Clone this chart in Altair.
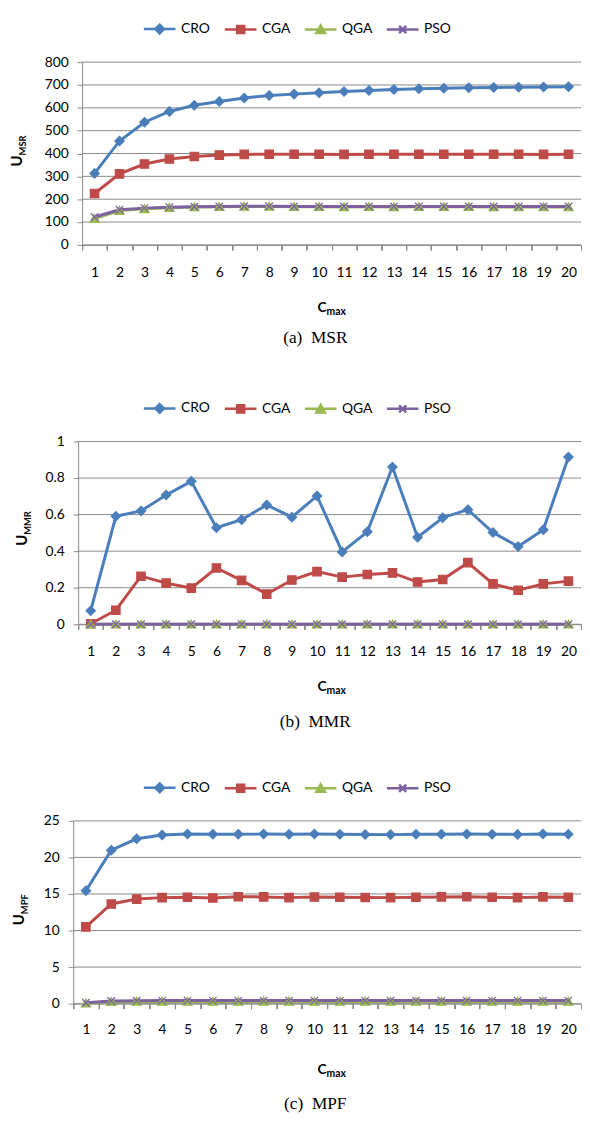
import altair as alt
import pandas as pd

# ---------------- data ----------------
cmax = [1, 2, 3, 4, 5, 6, 7, 8, 9, 10, 11, 12, 13, 14, 15, 16, 17, 18, 19, 20]
algorithms = ["CRO", "CGA", "QGA", "PSO"]
colors = ["#4a7ebb", "#be4b48", "#98b954", "#7d60a0"]

msr_cro = [313, 455, 537, 584, 611, 628, 643, 654, 660, 666, 671, 676, 680, 683, 686, 688, 689, 690, 691, 692]
msr_cga = [225, 311, 354, 376, 387, 393, 396, 397, 397, 397, 396, 397, 397, 397, 397, 397, 397, 397, 396, 397]
msr_qga = [115, 150, 158, 163, 166, 167, 168, 168, 167, 167, 166, 167, 166, 167, 167, 167, 166, 166, 166, 166]
msr_pso = [122, 154, 161, 165, 167, 168, 169, 169, 168, 168, 168, 168, 168, 168, 168, 168, 168, 168, 168, 168]

mmr_cro = [0.074, 0.591, 0.62, 0.707, 0.782, 0.528, 0.572, 0.653, 0.586, 0.702, 0.396, 0.506, 0.86, 0.476, 0.583, 0.627, 0.502, 0.425, 0.517, 0.915]
mmr_cga = [0.003, 0.077, 0.263, 0.225, 0.198, 0.308, 0.240, 0.165, 0.242, 0.288, 0.258, 0.272, 0.281, 0.231, 0.245, 0.337, 0.221, 0.186, 0.221, 0.236]
mmr_qga = [0, 0, 0, 0, 0, 0, 0, 0, 0, 0, 0, 0, 0, 0, 0, 0, 0, 0, 0, 0]
mmr_pso = [0, 0, 0, 0, 0, 0, 0, 0, 0, 0, 0, 0, 0, 0, 0, 0, 0, 0, 0, 0]

mpf_cro = [15.45, 20.99, 22.55, 23.07, 23.2, 23.18, 23.18, 23.19, 23.17, 23.2, 23.17, 23.13, 23.12, 23.17, 23.18, 23.2, 23.17, 23.15, 23.2, 23.16]
mpf_cga = [10.5, 13.63, 14.3, 14.5, 14.55, 14.45, 14.62, 14.6, 14.5, 14.58, 14.55, 14.52, 14.5, 14.55, 14.6, 14.62, 14.55, 14.5, 14.6, 14.55]
mpf_qga = [0.05, 0.27, 0.3, 0.3, 0.3, 0.3, 0.3, 0.3, 0.3, 0.3, 0.3, 0.3, 0.3, 0.3, 0.3, 0.3, 0.3, 0.3, 0.3, 0.3]
mpf_pso = [0.12, 0.36, 0.4, 0.42, 0.42, 0.42, 0.42, 0.42, 0.42, 0.42, 0.42, 0.42, 0.42, 0.42, 0.42, 0.42, 0.42, 0.42, 0.42, 0.42]

msr_ticks = [0, 100, 200, 300, 400, 500, 600, 700, 800]
mmr_ticks = [0, 0.2, 0.4, 0.6, 0.8, 1]
mpf_ticks = [0, 5, 10, 15, 20, 25]

# ---------------- style ----------------
FONT = "Lato"
GRID = "#898989"
W, H = 514, 185

marker_paths = [
    "M0,-1L1,0L0,1L-1,0Z",
    "M-0.9,-0.9H0.9V0.9H-0.9Z",
    "M0,-0.9L1,0.8H-1Z",
    "M-0.8,-0.8L0.8,0.8M-0.8,0.8L0.8,-0.8",
]
legend_paths = [
    "M-2,0H2M0,-0.55L0.55,0L0,0.55L-0.55,0Z",
    "M-2,0H2M-0.45,-0.45H0.45V0.45H-0.45Z",
    "M-2,0H2M0,-0.5L0.55,0.45H-0.55Z",
    "M-2,0H2M-0.45,-0.45L0.45,0.45M-0.45,0.45L0.45,-0.45",
]


def label(text, x, y, size, align="center", baseline="alphabetic", angle=0, font=FONT, weight="bold"):
    return alt.Chart(pd.DataFrame({"t": [text]})).mark_text(
        font=font, fontSize=size, fontWeight=weight, align=align,
        baseline=baseline, angle=angle, color="#000000",
    ).encode(x=alt.value(x), y=alt.value(y), text="t:N")


def anchor(x, y):
    # invisible spacer fixing the top-left extent of the panel
    return alt.Chart(pd.DataFrame({"t": [0]})).mark_rule(strokeOpacity=0, strokeWidth=1).encode(
        x=alt.value(x), y=alt.value(y), y2=alt.value(y + 1))


def panel(series, y_max, y_ticks, y_format, sub, caption, x0, ut_x, lab_pad, c_dy, cap_dy):
    rows = []
    for alg, vals in zip(algorithms, series):
        for c, v in zip(cmax, vals):
            rows.append({"cmax": c, "alg": alg, "value": v})
    df = pd.DataFrame(rows)

    xscale = alt.Scale(domain=[0.5, 20.5], range=[x0, W], nice=False, zero=False)
    yscale = alt.Scale(domain=[0, y_max], nice=False, zero=True)
    cscale = alt.Scale(domain=algorithms, range=colors)
    boundaries = [c - 0.5 for c in cmax] + [cmax[-1] + 0.5]

    legend = alt.Legend(
        orient="none", legendX=78, legendY=-43, direction="horizontal", title=None,
        symbolSize=256, symbolStrokeWidth=2.5, labelOffset=12, columnPadding=9,
        labelFont=FONT, labelFontSize=14, labelColor="#000000", padding=0,
    )
    y_axis = alt.Axis(
        values=y_ticks, format=y_format, tickSize=5, tickColor=GRID, labelPadding=9,
        grid=False, domainColor=GRID, labelFont=FONT, offset=-x0,
        labelFontSize=14, labelColor="#000000", title=None, labelFlush=False)
    color = alt.Color("alg:N", scale=cscale, legend=legend)
    stroke = alt.Stroke("alg:N", scale=cscale, legend=legend)

    grid = alt.Chart(pd.DataFrame({"tick": y_ticks})).mark_rule(
        color=GRID, strokeWidth=1
    ).encode(
        y=alt.Y("tick:Q", scale=yscale, axis=y_axis),
        x=alt.value(x0), x2=alt.value(W),
    )

    base = alt.Chart(df)
    y = alt.Y("value:Q", scale=yscale, axis=y_axis)
    line = base.mark_line(strokeWidth=3).encode(
        x=alt.X("cmax:Q", scale=xscale, axis=alt.Axis(
            values=cmax, orient="bottom", tickSize=0, labelPadding=lab_pad, grid=False,
            domainColor=GRID, domainWidth=1, labelFont=FONT, labelFontSize=14,
            labelColor="#000000", labelFlush=False, labelOverlap=False, title=None)),
        y=y,
        color=color,
    )

    pts = []
    for i, alg in enumerate(algorithms):
        pts.append(
            base.transform_filter(alt.datum.alg == alg).mark_point(
                filled=True, size=90, strokeWidth=1.2, opacity=1, shape=marker_paths[i]
            ).encode(
                x=alt.X("cmax:Q", scale=xscale, axis=alt.Axis(
                    values=boundaries, orient="bottom", labels=False, tickSize=5,
                    tickColor=GRID, domain=False, grid=False, title=None)),
                y=y,
                color=color,
                stroke=stroke,
            )
        )

    leg = base.transform_filter("false").mark_point(
        filled=True, size=256, strokeWidth=2.5, opacity=1
    ).encode(
        x=alt.X("cmax:Q", scale=xscale, axis=None),
        y=y,
        color=color,
        stroke=stroke,
        shape=alt.Shape("alg:N", scale=alt.Scale(domain=algorithms, range=legend_paths), legend=legend),
    )

    mid = H / 2 + 2
    texts = [
        label("U", ut_x, mid, 15, align="right", angle=270),
        label(sub, ut_x + 4, mid, 9.5, align="left", angle=270),
        label("C", 256.5, H + c_dy, 14, align="right"),
        label("max", 256.5, H + c_dy + 3, 10.5, align="left"),
        label(caption, 245, H + cap_dy, 17.5, font="Liberation Serif", weight="normal"),
        anchor(-65.5, -47.5),
    ]
    return alt.layer(grid, line, *pts, leg, *texts).resolve_axis(x="independent").properties(width=W, height=H)


p1 = panel([msr_cro, msr_cga, msr_qga, msr_pso], 800, msr_ticks, "d", "MSR", "(a) \u00a0MSR",
           9, -52, 21, 68, 99)
p2 = panel([mmr_cro, mmr_cga, mmr_qga, mmr_pso], 1, mmr_ticks, "~g", "MMR", "(b) \u00a0MMR",
           5, -47, 21, 68, 104)
p3 = panel([mpf_cro, mpf_cga, mpf_qga, mpf_pso], 25, mpf_ticks, "d", "MPF", "(c) \u00a0MPF",
           0, -50, 19, 71, 107)

chart = alt.vconcat(p1, p2, p3, spacing=199, bounds="flush").resolve_scale(
    color="independent", stroke="independent", shape="independent"
).properties(
    padding={"left": 0, "top": 0, "right": 0, "bottom": 0}
).configure_view(stroke=None)

chart.save("out.html", embed_options={"renderer": "svg", "actions": False})
